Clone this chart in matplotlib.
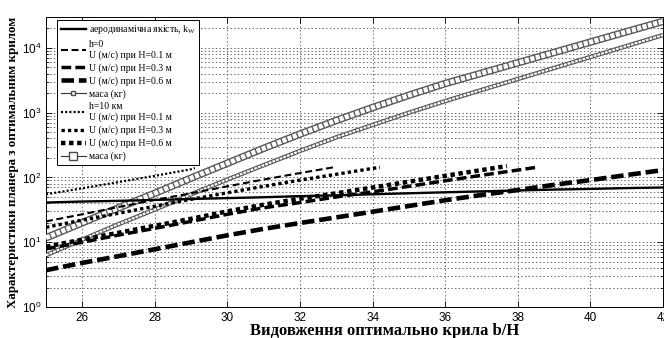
import matplotlib
matplotlib.use("Agg")
import matplotlib.pyplot as plt
from matplotlib.lines import Line2D

# values (log y axis)
X_FULL = [25, 26, 27, 28, 29, 30, 31, 32, 33, 34, 35, 36, 37, 38, 39, 40, 41, 42]
KW = [41, 42.5, 43.5, 45, 46.5, 48, 49.5, 51.5, 53, 55, 57, 59, 61, 63, 65, 66.5, 68.5, 70]

# h = 0
X_H0_01 = [25, 26, 27, 28, 29, 30, 31, 32, 33]
U_H0_01 = [21, 27, 35, 45, 57, 73, 93, 117, 146]
X_H0_03 = [25, 26, 27, 28, 29, 30, 31, 32, 33, 34, 35, 36, 37, 38, 38.5]
U_H0_03 = [7.9, 10, 12.9, 16.4, 21, 27, 34, 41, 50, 60, 73, 89, 108, 130, 143]
U_H0_06 = [3.7, 4.8, 6.1, 7.8, 10, 12.8, 16.1, 19.8, 24.2, 29.6, 36.3, 44.5, 53.7,
           64, 77, 91, 109, 130]
MASS_H0 = [6.3, 11, 19, 32, 55, 93, 155, 257, 417, 646, 1000, 1510, 2240, 3310,
           4900, 7240, 10700, 15800]

# h = 10 km
X_H10_01 = [25, 26, 27, 28, 29, 29.1]
U_H10_01 = [55, 68, 85, 106, 134, 140]
X_H10_03 = [25, 26, 27, 28, 29, 30, 31, 32, 33, 34, 34.2]
U_H10_03 = [17, 22, 28, 36, 46, 58, 73, 91, 112, 138, 143]
X_H10_06 = [25, 26, 27, 28, 29, 30, 31, 32, 33, 34, 35, 36, 37, 37.7]
U_H10_06 = [8.5, 11, 14, 18, 23, 30, 38, 47, 57, 70, 86, 106, 130, 150]
MASS_H10 = [11.7, 20, 34, 57, 98, 166, 282, 468, 759, 1200, 1860, 2820, 4070, 5890,
            8510, 12300, 17800, 25700]

X_TICKS = [26, 28, 30, 32, 34, 36, 38, 40, 42]

plt.rcParams["lines.scale_dashes"] = False
SERIF = ["Liberation Serif", "DejaVu Serif"]
SANS = ["Liberation Sans", "DejaVu Sans"]
plt.rcParams["font.family"] = SANS

STYLES = {
    "kw": dict(color="black", lw=1.7, ls="-"),
    "h0_01": dict(color="black", lw=1.5, dashes=(5, 2.6)),
    "h0_03": dict(color="black", lw=2.5, dashes=(7, 3)),
    "h0_06": dict(color="black", lw=3.3, dashes=(9, 3.5)),
    "h10_01": dict(color="black", lw=1.6, dashes=(1.5, 1.5)),
    "h10_03": dict(color="black", lw=2.4, dashes=(2.4, 2.2)),
    "h10_06": dict(color="black", lw=3.2, dashes=(3.2, 2.6)),
}


def draw_mass(ax, x, y, band, inner, dashes):
    # chain of hollow squares, the way dense markers look in the original
    ax.plot(x, y, color="0.35", lw=band, solid_capstyle="butt", zorder=3)
    ax.plot(x, y, color="white", lw=inner, dashes=dashes, dash_capstyle="butt", zorder=3)


fig = plt.figure(figsize=(6.64, 3.38), dpi=100)
ax = fig.add_axes([0.0693, 0.0917, 0.9292, 0.858])

ax.plot(X_FULL, KW, **STYLES["kw"], zorder=4)
ax.plot(X_H0_01, U_H0_01, **STYLES["h0_01"], zorder=4)
ax.plot(X_H0_03, U_H0_03, **STYLES["h0_03"], zorder=4)
ax.plot(X_FULL, U_H0_06, **STYLES["h0_06"], zorder=4)
draw_mass(ax, X_FULL, MASS_H0, 3.2, 1.5, (2.0, 0.8))
ax.plot(X_H10_01, U_H10_01, **STYLES["h10_01"], zorder=4)
ax.plot(X_H10_03, U_H10_03, **STYLES["h10_03"], zorder=4)
ax.plot(X_H10_06, U_H10_06, **STYLES["h10_06"], zorder=4)
draw_mass(ax, X_FULL, MASS_H10, 5.4, 3.4, (3.0, 1.0))

ax.set_yscale("log")
ax.set_xlim(25, 42)
ax.set_ylim(1, 3e4)
ax.set_xticks(X_TICKS)

ax.grid(True, which="major", ls=":", color="0.3", lw=0.6)
ax.grid(True, which="minor", axis="y", ls=":", color="0.3", lw=0.6)
ax.tick_params(which="both", direction="in", top=True, right=True, labelsize=8.5)
ax.tick_params(which="major", length=4, width=0.6)
ax.tick_params(which="minor", length=2, width=0.5)
for s in ax.spines.values():
    s.set_linewidth(0.7)

ax.set_xlabel("Видовження оптимально крила b/H", family=SERIF, fontweight="bold",
              fontsize=12, labelpad=-1)
ax.xaxis.set_label_coords(0.548, -0.055, transform=ax.transAxes)
ax.xaxis.label.set_va("top")
ax.set_ylabel("Характеристики планера з оптимальним крилом", family=SERIF,
              fontweight="bold", fontsize=9.4, labelpad=2)

handles = [
    Line2D([], [], **STYLES["kw"]),
    Line2D([], [], **STYLES["h0_01"]),
    Line2D([], [], **STYLES["h0_03"]),
    Line2D([], [], **STYLES["h0_06"]),
    Line2D([], [], color="0.2", lw=0.8, marker="s", ms=3.5, mfc="white", mec="0.3"),
    Line2D([], [], **STYLES["h10_01"]),
    Line2D([], [], **STYLES["h10_03"]),
    Line2D([], [], **STYLES["h10_06"]),
    Line2D([], [], color="0.2", lw=0.8, marker="s", ms=6, mfc="white", mec="0.3"),
]
labels = [
    "аеродинамічна якість, k$_\\mathregular{W}$",
    "h=0\nU (м/с) при H=0.1 м",
    "U (м/с) при H=0.3 м",
    "U (м/с) при H=0.6 м",
    "маса (кг)",
    "h=10 км\nU (м/с) при H=0.1 м",
    "U (м/с) при H=0.3 м",
    "U (м/с) при H=0.6 м",
    "маса (кг)",
]
leg = ax.legend(handles, labels, loc="upper left", bbox_to_anchor=(0.018, 0.99),
                prop={"family": SERIF, "size": 7}, frameon=True, fancybox=False,
                edgecolor="black", framealpha=1, handlelength=2.6, handletextpad=0.3,
                labelspacing=0.35, borderpad=0.35, borderaxespad=0)
leg.get_frame().set_linewidth(0.7)
leg.set_zorder(10)

fig.savefig("out.png", dpi=100)
